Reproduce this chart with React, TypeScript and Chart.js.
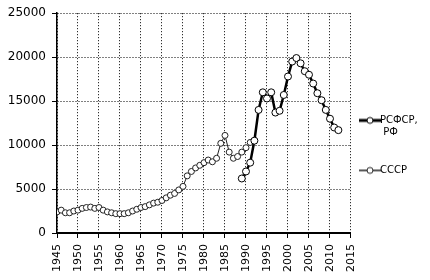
import React, { useEffect, useRef } from "react";
import { Chart, registerables } from "chart.js";

Chart.register(...registerables);

// ---- data ----
const ussrName = "СССР";
const rfName = "РСФСР, РФ";
const rfLegendLines = ["РСФСР,", " РФ", ""];

const ussrYears = [
  1945, 1946, 1947, 1948, 1949, 1950, 1951, 1952, 1953, 1954, 1955, 1956,
  1957, 1958, 1959, 1960, 1961, 1962, 1963, 1964, 1965, 1966, 1967, 1968,
  1969, 1970, 1971, 1972, 1973, 1974, 1975, 1976, 1977, 1978, 1979, 1980,
  1981, 1982, 1983, 1984, 1985, 1986, 1987, 1988, 1989, 1990, 1991,
];
const ussrValues = [
  2400, 2600, 2300, 2300, 2500, 2600, 2800, 2900, 2950, 2800, 2900, 2600,
  2400, 2300, 2200, 2200, 2200, 2300, 2500, 2700, 2900, 3000, 3200, 3400,
  3500, 3700, 4000, 4300, 4500, 4900, 5300, 6500, 7000, 7400, 7700, 8000,
  8300, 8100, 8500, 10200, 11100, 9200, 8500, 8700, 9200, 9700, 10300,
];

const rfYears = [
  1989, 1990, 1991, 1992, 1993, 1994, 1995, 1996, 1997, 1998, 1999, 2000,
  2001, 2002, 2003, 2004, 2005, 2006, 2007, 2008, 2009, 2010, 2011, 2012,
];
const rfValues = [
  6200, 7000, 8000, 10500, 14000, 16000, 15300, 16000, 13700, 13900, 15700,
  17800, 19500, 19900, 19300, 18400, 18000, 17000, 15900, 15100, 14000,
  13000, 12000, 11700,
];

const xMin = 1945;
const xMax = 2015;
const xStep = 5;
const yMin = 0;
const yMax = 25000;
const yStep = 5000;

function makeMarker(lineWidth: number, color: string, r: number) {
  const c = document.createElement("canvas");
  c.width = 26;
  c.height = 12;
  const g = c.getContext("2d")!;
  g.strokeStyle = color;
  g.lineWidth = lineWidth;
  g.beginPath();
  g.moveTo(2, 6);
  g.lineTo(24, 6);
  g.stroke();
  g.beginPath();
  g.arc(13, 6, r, 0, Math.PI * 2);
  g.fillStyle = "#fff";
  g.fill();
  g.lineWidth = 1;
  g.stroke();
  return c;
}

export default function App() {
  const ref = useRef<HTMLCanvasElement | null>(null);

  useEffect(() => {
    if (!ref.current) return;
    Chart.defaults.font.family = "'DejaVu Sans', sans-serif";
    const rfMarker = makeMarker(3, "#000", 3);
    const ussrMarker = makeMarker(1.5, "#222", 3);

    const chart = new Chart(ref.current, {
      type: "line",
      data: {
        datasets: [
          {
            label: rfName,
            data: rfYears.map((x, i) => ({ x, y: rfValues[i] })),
            borderColor: "#000",
            borderWidth: 2.5,
            pointRadius: 3.5,
            pointBackgroundColor: "#fff",
            pointBorderColor: "#000",
            pointBorderWidth: 1,
            tension: 0,
          },
          {
            label: ussrName,
            data: ussrYears.map((x, i) => ({ x, y: ussrValues[i] })),
            borderColor: "#222",
            borderWidth: 1,
            pointRadius: 3,
            pointBackgroundColor: "#fff",
            pointBorderColor: "#222",
            pointBorderWidth: 1,
            tension: 0,
          },
        ],
      },
      options: {
        responsive: false,
        animation: false,
        layout: { padding: { top: 10.8, left: 0, right: 2.2, bottom: 0 } },
        plugins: {
          tooltip: { enabled: false },
          legend: {
            position: "right",
            maxWidth: 79,
            maxHeight: 246,
            labels: {
              usePointStyle: true,
              boxWidth: 18,
              padding: 14,
              color: "#000",
              font: { size: 10, lineHeight: 1.2 },
              generateLabels: () => [
                { text: rfLegendLines as any, pointStyle: rfMarker as any, hidden: false, datasetIndex: 0 },
                { text: ussrName, pointStyle: ussrMarker as any, hidden: false, datasetIndex: 1 },
              ],
            },
          },
        },
        scales: {
          x: {
            type: "linear",
            min: xMin,
            max: xMax,
            afterFit: (s: any) => {
              s.height = 47;
            },
            ticks: {
              stepSize: xStep,
              autoSkip: false,
              minRotation: 90,
              maxRotation: 90,
              padding: 6,
              color: "#000",
              font: { size: 11 },
              callback: (v: any) => String(v),
            },
            grid: { color: "#000", lineWidth: 1, tickLength: 5, tickColor: "#000" },
            border: { color: "#000", width: 2, dash: [1, 2] },
          },
          y: {
            min: yMin,
            max: yMax,
            afterFit: (s: any) => {
              s.width = 57;
            },
            ticks: {
              stepSize: yStep,
              padding: 6,
              color: "#000",
              font: { size: 12 },
              callback: (v: any) => String(v),
            },
            grid: { color: "#000", lineWidth: 1, tickLength: 5, tickColor: "#000" },
            border: { color: "#000", width: 1.5, dash: [1, 2] },
          },
        },
      },
    });
    return () => {
      chart.destroy();
    };
  }, []);

  return (
    <div style={{ position: "fixed", left: 0, top: 0, width: 430, height: 280 }}>
      <canvas ref={ref} width={430} height={280} style={{ display: "block" }} />
    </div>
  );
}
